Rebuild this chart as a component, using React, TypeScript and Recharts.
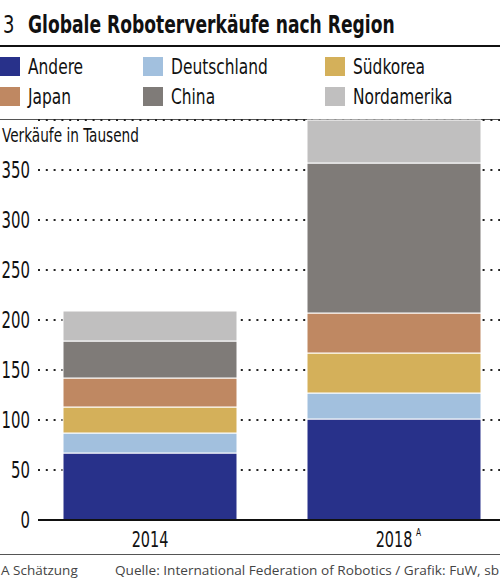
import React from 'react';
import { BarChart, Bar, XAxis, YAxis, CartesianGrid } from 'recharts';

const years = ['2014', '2018'];
const yearNotes = ['', 'A'];

const andere = [67, 101];
const deutschland = [20, 26];
const suedkorea = [26, 40];
const japan = [29, 40];
const china = [37, 150];
const nordamerika = [30, 43];

const yTicks = [0, 50, 100, 150, 200, 250, 300, 350];

const series = [
  { key: 'andere', name: 'Andere', color: '#28318a', values: andere },
  { key: 'deutschland', name: 'Deutschland', color: '#a2c0de', values: deutschland },
  { key: 'suedkorea', name: 'Südkorea', color: '#d4b05a', values: suedkorea },
  { key: 'japan', name: 'Japan', color: '#bf8862', values: japan },
  { key: 'china', name: 'China', color: '#7f7b78', values: china },
  { key: 'nordamerika', name: 'Nordamerika', color: '#c0bfbf', values: nordamerika },
];

const data = years.map((year, i) => {
  const row: Record<string, string | number> = { year };
  series.forEach((s) => {
    row[s.key] = s.values[i];
  });
  return row;
});

const FONT = "'DejaVu Sans Condensed', 'DejaVu Sans', sans-serif";
const FOOT_FONT = "'Open Sans', sans-serif";

// narrow text: DejaVu condensed squeezed horizontally
const Narrow = ({ x, y, sx, size, anchor = 'start', weight = 'normal', fill = '#111', children }: any) => (
  <text
    transform={`translate(${x} ${y}) scale(${sx} 1)`}
    textAnchor={anchor}
    fontFamily={FONT}
    fontSize={size}
    fontWeight={weight}
    fill={fill}
  >
    {children}
  </text>
);

const YTick = (props: any) => {
  const { x, y, payload } = props;
  return (
    <Narrow x={x} y={y + 7.5} sx={0.72} size={23} anchor="end">
      {payload.value}
    </Narrow>
  );
};

const XTick = (props: any) => {
  const { x, y, payload, index } = props;
  const note = yearNotes[index];
  return (
    <g>
      <Narrow x={x} y={y + 19} sx={0.73} size={22} anchor="middle">
        {payload.value}
      </Narrow>
      {note && (
        <Narrow x={x + 22} y={y + 8} sx={0.75} size={11}>
          {note}
        </Narrow>
      )}
    </g>
  );
};

const legendCols = [0, 143, 325];
const legendRows = [57, 87];

export default function App() {
  return (
    <div
      style={{
        position: 'absolute',
        left: 0,
        top: 0,
        width: 500,
        height: 586,
        overflow: 'hidden',
        background: '#fff',
      }}
    >
      <svg width={500} height={586} style={{ position: 'absolute', left: 0, top: 0 }}>
        <Narrow x={3} y={33} sx={0.8} size={25}>
          3
        </Narrow>
        <Narrow x={28} y={33} sx={0.762} size={25} weight="bold">
          Globale Roboterverkäufe nach Region
        </Narrow>
        <line x1={0} x2={500} y1={46} y2={46} stroke="#111" strokeWidth={2} />
        {series.map((s, i) => {
          const cx = legendCols[i % 3];
          const cy = legendRows[Math.floor(i / 3)];
          return (
            <g key={s.key}>
              <rect x={cx} y={cy} width={20} height={19} fill={s.color} />
              <Narrow x={cx + 28} y={cy + 17} sx={0.78} size={22}>
                {s.name}
              </Narrow>
            </g>
          );
        })}
        <line x1={0} x2={500} y1={119.5} y2={119.5} stroke="#555" strokeWidth={1} />
        <Narrow x={2} y={142} sx={0.8} size={19}>
          Verkäufe in Tausend
        </Narrow>
        <line x1={0} x2={500} y1={554.5} y2={554.5} stroke="#555" strokeWidth={1} />
        <text x={1} y={575} fontFamily={FOOT_FONT} fontSize={13.5} fill="#444">
          A Schätzung
        </text>
        <text
          x={115}
          y={575}
          fontFamily={FOOT_FONT}
          fontSize={13.5}
          fill="#444"
          textLength={384}
          lengthAdjust="spacingAndGlyphs"
        >
          Quelle: International Federation of Robotics / Grafik: FuW, sb
        </text>
      </svg>
      <div style={{ position: 'absolute', left: 0, top: 0 }}>
        <BarChart
          width={530}
          height={586}
          data={data}
          margin={{ top: 120, right: 14, left: 0, bottom: 36 }}
          barSize={174}
        >
          <CartesianGrid
            vertical={false}
            stroke="#222"
            strokeWidth={2}
            strokeDasharray="2 5.8"
          />
          <YAxis
            width={38}
            domain={[0, 400]}
            ticks={yTicks}
            axisLine={false}
            tickLine={false}
            tick={<YTick />}
            interval={0}
          />
          <XAxis
            dataKey="year"
            height={30}
            axisLine={{ stroke: '#111', strokeWidth: 2 }}
            tickLine={false}
            tick={<XTick />}
            padding={{ left: -10, right: 0 }}
            interval={0}
          />
          {series.map((s) => (
            <Bar
              key={s.key}
              dataKey={s.key}
              name={s.name}
              stackId="a"
              fill={s.color}
              stroke="#fff"
              strokeWidth={1}
              isAnimationActive={false}
            />
          ))}
        </BarChart>
      </div>
    </div>
  );
}
